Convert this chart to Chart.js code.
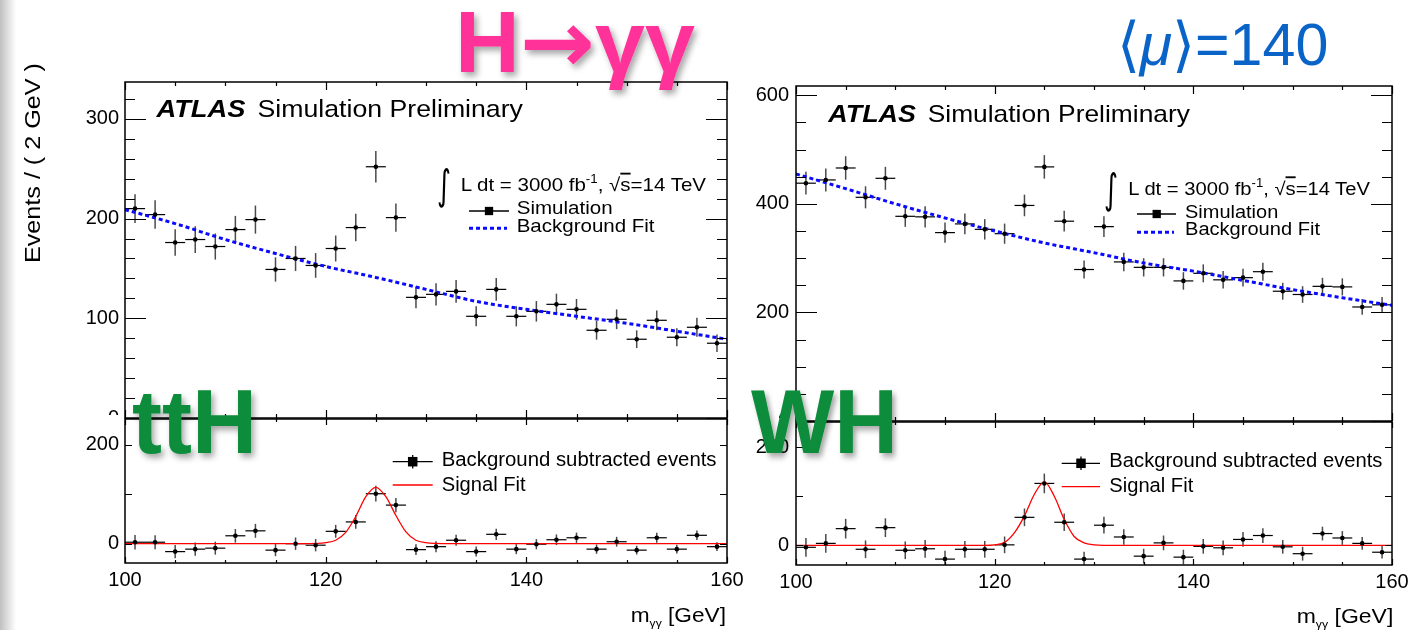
<!DOCTYPE html>
<html><head><meta charset="utf-8">
<script src="https://cdn.jsdelivr.net/npm/chart.js@4.4.1/dist/chart.umd.min.js"></script>
<style>
html,body{margin:0;padding:0;background:#fff;}
body{width:1411px;height:630px;position:relative;overflow:hidden;font-family:"Liberation Sans",Arial,sans-serif;}
canvas{position:absolute;}
#overlay{position:absolute;left:0;top:0;pointer-events:none;}
#strip{position:absolute;left:0;top:0;width:16px;height:630px;background:linear-gradient(to right,rgba(140,140,140,0.55),rgba(255,255,255,0));}
</style></head><body>
<div id="strip"></div>
<canvas id="lt" width="700" height="370" style="left:60px;top:70px"></canvas>
<canvas id="rt" width="666" height="370" style="left:745px;top:74px"></canvas>
<canvas id="lb" width="700" height="215" style="left:60px;top:415px"></canvas>
<canvas id="rb" width="666" height="212" style="left:745px;top:418px"></canvas>
<svg id="overlay" xmlns="http://www.w3.org/2000/svg" width="1411" height="630">
<defs>
<filter id="sh" x="-20%" y="-20%" width="150%" height="160%"><feDropShadow dx="3" dy="4" stdDeviation="3" flood-color="#000" flood-opacity="0.35"/></filter>
</defs>
</svg>
<script>
// ---------------- data ----------------
const binCenters = [101,103,105,107,109,111,113,115,117,119,121,123,125,127,129,131,133,135,137,139,141,143,145,147,149,151,153,155,157,159];
const binHalfWidth = 1;
const xTickValues = [100,120,140,160];

// ttH (left)
const ttH_sim    = [210,204,176,179,172,189,199,149,160,153,170,191,252,201,121,124,127,102,129,102,107,114,109,88,99,79,98,81,91,75];
const ttH_simErr = [14.5,14.3,13.3,13.4,13.1,13.7,14.1,12.2,12.6,12.4,13,13.8,15.9,14.2,11,11.1,11.3,10.1,11.4,10.1,10.3,10.7,10.4,9.4,9.9,8.9,9.9,9,9.5,8.7];
const ttH_sub    = [3,3,-16,-11,-9,16,26,-13,0,-3,25,44,101,78,-12,-6,7,-16,19,-11,-1,8,12,-11,4,-13,12,-11,17,-6];
const ttH_subErr = [14.5,14.3,13.3,13.4,13.1,13.7,14.1,12.2,12.6,12.4,13,13.8,15.9,14.2,11,11.1,11.3,10.1,11.4,10.1,10.3,10.7,10.4,9.4,9.9,8.9,9.9,9,9.5,8.7];
const bkgFitX    = [100,105,110,115,120,125,130,135,140,145,150,155,160];
const ttH_bkgFit = [209,195,179,165,152,141,129,117,109,102,95,87,79];
const sigFitX    = [100,117,118,119,120,121,122,123,124,125,126,127,128,129,130,131,132,133,160];
const ttH_sigFit = [0,0,0,0.5,2,7,23,55,95,114,95,57,24,7,2,0.5,0,0,0];
const ttH_yTicksTop = [0,100,200,300];

// WH (right)
const WH_sim    = [438,444,466,412,447,377,376,347,363,353,345,397,468,368,279,358,293,283,283,258,272,260,264,275,239,233,248,247,210,214];
const WH_simErr = [20.9,21.1,21.6,20.3,21.1,19.4,19.4,18.6,19.1,18.8,18.6,19.9,21.6,19.2,16.7,18.9,17.1,16.8,16.8,16.1,16.5,16.1,16.2,16.6,15.5,15.3,15.7,15.7,14.5,14.6];
const WH_sub    = [-4,4,34,-8,36,-10,-7,-28,-8,-8,1,57,126,47,-28,41,17,-22,5,-24,-2,-5,12,20,-3,-17,24,15,4,-14];
const WH_subErr = [19,19,20,18,19,18,18,17,17,17,17,18,20,18,15,17,16,15,15,15,15,15,15,15,14,14,14,14,13,13];
const WH_bkgFit = [455,428,400,374,350,328,310,291,276,259,242,227,213];
const WH_sigFit = [0,0,0,0,1,6,26,60,104,129,100,53,18,5,1,0,0,0,0];
const WH_yTicksTop = [0,200,400,600];

const yTicksBottom = [0,200];

// ---------------- plugins ----------------
const errorBarPlugin = {
  id: 'errorBars',
  beforeDatasetsDraw(chart) {
    const {ctx, chartArea: a, scales: {x, y}} = chart;
    ctx.save();
    ctx.beginPath(); ctx.rect(a.left, a.top, a.width, a.height); ctx.clip();
    chart.data.datasets.forEach(ds => {
      if (!ds.errors) return;
      ds.data.forEach((p, i) => {
        const px = x.getPixelForValue(p.x), py = y.getPixelForValue(p.y);
        const e = ds.errors[i];
        ctx.strokeStyle = '#4a4a4a'; ctx.lineWidth = 1.5;
        ctx.beginPath(); ctx.moveTo(px, y.getPixelForValue(p.y + e)); ctx.lineTo(px, y.getPixelForValue(p.y - e)); ctx.stroke();
        ctx.strokeStyle = '#000'; ctx.lineWidth = 1.2;
        ctx.beginPath(); ctx.moveTo(x.getPixelForValue(p.x - ds.xErr), py); ctx.lineTo(x.getPixelForValue(p.x + ds.xErr), py); ctx.stroke();
      });
    });
    ctx.restore();
  }
};
const framePlugin = {
  id: 'rootFrame',
  afterDatasetsDraw(chart, args, o) {
    const {ctx, chartArea: a, scales: {x, y}} = chart;
    ctx.save();
    ctx.strokeStyle = '#000'; ctx.lineWidth = 1.2;
    ctx.beginPath();
    for (let v = Math.ceil(x.min / o.xMinor) * o.xMinor; v <= x.max + 1e-9; v += o.xMinor) {
      const px = Math.round(x.getPixelForValue(v)) + 0.5;
      const len = (Math.abs(v % o.xMajor) < 1e-9) ? o.xMajorLen : o.xMinorLen;
      ctx.moveTo(px, a.bottom); ctx.lineTo(px, a.bottom - len);
      ctx.moveTo(px, a.top); ctx.lineTo(px, a.top + len);
    }
    for (let v = Math.ceil(y.min / o.yMinor) * o.yMinor; v <= y.max + 1e-9; v += o.yMinor) {
      const py = Math.round(y.getPixelForValue(v)) + 0.5;
      const len = (Math.abs(v % o.yMajor) < 1e-9) ? o.yMajorLen : o.yMinorLen;
      ctx.moveTo(a.left, py); ctx.lineTo(a.left + len, py);
      ctx.moveTo(a.right, py); ctx.lineTo(a.right - len, py);
    }
    ctx.stroke();
    ctx.lineWidth = 1.5;
    ctx.strokeRect(a.left, a.top, a.right - a.left, a.bottom - a.top);
    ctx.restore();
  }
};
const whiteLeftPlugin = {
  id: 'whiteLeft',
  beforeDraw(chart, args, o) {
    if (!o.on) return;
    const {ctx, chartArea: a} = chart;
    ctx.save(); ctx.fillStyle = '#fff'; ctx.fillRect(0, 0, a.left - 1, chart.height); ctx.restore();
  }
};

const tickFont = {family: 'Liberation Sans, Arial, sans-serif', size: 20};

function makeChart(id, c) {
  const pts = binCenters.map((x, i) => ({x, y: c.vals[i]}));
  const fit = c.fitX.map((x, i) => ({x, y: c.fitY[i]}));
  return new Chart(document.getElementById(id), {
    type: 'scatter',
    data: {datasets: [
      {data: pts, errors: c.errs, xErr: binHalfWidth, pointRadius: 2.3, pointBackgroundColor: '#000', pointBorderWidth: 0, showLine: false, order: 1},
      {data: fit, showLine: true, pointRadius: 0, borderColor: c.fitColor, borderWidth: c.fitWidth, borderDash: c.fitDash, cubicInterpolationMode: 'monotone', fill: false, order: 2}
    ]},
    options: {
      responsive: false, animation: false, devicePixelRatio: 1,
      layout: {padding: c.padding},
      plugins: {legend: {display: false}, tooltip: {enabled: false},
        rootFrame: c.frame, whiteLeft: {on: c.whiteLeft}},
      scales: {
        x: {type: 'linear', min: 100, max: 160,
          grid: {display: false, drawTicks: false}, border: {display: false},
          ticks: {display: c.showX, autoSkip: false, maxRotation: 0, padding: c.xPad, font: tickFont, color: '#000'},
          afterBuildTicks: s => { s.ticks = xTickValues.map(v => ({value: v})); },
          afterFit: s => { s.height = c.xHeight; s.paddingLeft = 0; s.paddingRight = 0; }},
        y: {type: 'linear', min: c.ymin, max: c.ymax,
          grid: {display: false, drawTicks: false}, border: {display: false},
          ticks: {autoSkip: false, padding: c.yPad, font: tickFont, color: '#000'},
          afterBuildTicks: s => { s.ticks = c.yTicks.map(v => ({value: v})); },
          afterFit: s => { s.width = c.yWidth; s.paddingTop = 0; s.paddingBottom = 0; }}
      }
    },
    plugins: [errorBarPlugin, framePlugin, whiteLeftPlugin]
  });
}

const blueFit = {fitColor: '#0a0aff', fitWidth: 3, fitDash: [4, 3]};
const redFit = {fitColor: '#ff0000', fitWidth: 1.3, fitDash: []};

makeChart('lt', Object.assign({vals: ttH_sim, errs: ttH_simErr, fitX: bkgFitX, fitY: ttH_bkgFit,
  ymin: 0, ymax: 337, yTicks: ttH_yTicksTop, padding: {left: 0, right: 33, top: 12, bottom: 22},
  yWidth: 65, xHeight: 0, showX: false, xPad: 0, yPad: 6, whiteLeft: false,
  frame: {xMinor: 5, xMajor: 20, xMinorLen: 4, xMajorLen: 8, yMinor: 20, yMajor: 100, yMinorLen: 10, yMajorLen: 21}}, blueFit));
makeChart('rt', Object.assign({vals: WH_sim, errs: WH_simErr, fitX: bkgFitX, fitY: WH_bkgFit,
  ymin: 0, ymax: 617, yTicks: WH_yTicksTop, padding: {left: 0, right: 19, top: 12, bottom: 23},
  yWidth: 51, xHeight: 0, showX: false, xPad: 0, yPad: 7, whiteLeft: false,
  frame: {xMinor: 5, xMajor: 20, xMinorLen: 4, xMajorLen: 8, yMinor: 50, yMajor: 200, yMinorLen: 10, yMajorLen: 21}}, blueFit));
makeChart('lb', Object.assign({vals: ttH_sub, errs: ttH_subErr, fitX: sigFitX, fitY: ttH_sigFit,
  ymin: -39, ymax: 252, yTicks: yTicksBottom, padding: {left: 0, right: 33, top: 4, bottom: 0},
  yWidth: 65, xHeight: 67, showX: true, xPad: 5, yPad: 6, whiteLeft: true,
  frame: {xMinor: 5, xMajor: 20, xMinorLen: 3, xMajorLen: 6, yMinor: 100, yMajor: 200, yMinorLen: 7, yMajorLen: 7}}, redFit));
makeChart('rb', Object.assign({vals: WH_sub, errs: WH_subErr, fitX: sigFitX, fitY: WH_sigFit,
  ymin: -40, ymax: 251, yTicks: yTicksBottom, padding: {left: 0, right: 19, top: 4, bottom: 0},
  yWidth: 51, xHeight: 65, showX: true, xPad: 5, yPad: 7, whiteLeft: true,
  frame: {xMinor: 5, xMajor: 20, xMinorLen: 3, xMajorLen: 6, yMinor: 100, yMajor: 200, yMinorLen: 7, yMajorLen: 7}}, redFit));

// ---------------- annotations (SVG text) ----------------
const NS = 'http://www.w3.org/2000/svg';
const svg = document.getElementById('overlay');
function el(tag, attrs) { const e = document.createElementNS(NS, tag); for (const k in attrs) e.setAttribute(k, attrs[k]); svg.appendChild(e); return e; }
function txt(s) {
  const t = el('text', {x: 0, y: 0, 'font-size': s.fs, 'font-family': s.ff || 'Liberation Sans, Arial, sans-serif', fill: s.fill || '#000'});
  if (s.bold) t.setAttribute('font-weight', 'bold');
  if (s.italic) t.setAttribute('font-style', 'italic');
  if (s.filter) t.setAttribute('filter', s.filter);
  t.innerHTML = s.html;
  const w0 = t.getComputedTextLength();
  const k = s.w ? s.w / w0 : 1;
  t.setAttribute('transform', 'translate(' + s.x + ',' + s.y + ')' + (s.rot ? ' rotate(' + s.rot + ')' : '') + ' scale(' + k + ',' + (s.ky || 1) + ')');
  return t;
}
function line(x1, y1, x2, y2, stroke, w, dash) {
  const a = {x1, y1, x2, y2, stroke, 'stroke-width': w};
  if (dash) a['stroke-dasharray'] = dash;
  return el('line', a);
}
function square(cx, cy, s) { return el('rect', {x: cx - s / 2, y: cy - s / 2, width: s, height: s, fill: '#000'}); }

const intHtml = 'L dt = 3000 fb<tspan dy="-7.5" font-size="12">-1</tspan><tspan dy="7.5">, √</tspan><tspan style="text-decoration:overline">s</tspan>=14 TeV';
const mHtml = 'm<tspan font-size="11" dy="5">γγ</tspan><tspan dy="-5"> [GeV]</tspan>';

// left panel
txt({x: 156.5, y: 116.7, fs: 24.5, bold: true, italic: true, w: 89, html: 'ATLAS'});
txt({x: 257.5, y: 116.7, fs: 24, w: 265.5, html: 'Simulation Preliminary'});
txt({x: 437, y: 199, fs: 34, w: 14, ky: 1.2, ff: 'DejaVu Sans, sans-serif', html: '∫'});
txt({x: 460.7, y: 190.7, fs: 18.5, w: 245.5, html: intHtml});
line(469, 211, 509, 211, '#000', 1.3); square(489, 211, 8.3);
txt({x: 516.7, y: 213.8, fs: 18.5, w: 96, html: 'Simulation'});
line(469, 228.3, 507, 228.3, '#0a0aff', 3, '4 3');
txt({x: 516.7, y: 231.5, fs: 18.5, w: 138, html: 'Background Fit'});
line(392.7, 461.7, 432.7, 461.7, '#000', 1.3); line(412.7, 455, 412.7, 468.5, '#000', 1.3); square(412.7, 461.7, 9.5);
txt({x: 441.7, y: 465.7, fs: 19.5, w: 275, html: 'Background subtracted events'});
line(392.7, 485, 432.7, 485, '#ff0000', 1.3);
txt({x: 441.7, y: 491, fs: 19.5, w: 84, html: 'Signal Fit'});
txt({x: 630.7, y: 621.7, fs: 20.5, w: 95.3, html: mHtml});
txt({x: 40, y: 263, fs: 22, w: 200, rot: -90, html: 'Events / ( 2 GeV )'});

// right panel
txt({x: 828.3, y: 121.7, fs: 24.5, bold: true, italic: true, w: 87.7, html: 'ATLAS'});
txt({x: 927.7, y: 121.7, fs: 24, w: 262.3, html: 'Simulation Preliminary'});
txt({x: 1104, y: 203, fs: 34, w: 14, ky: 1.2, ff: 'DejaVu Sans, sans-serif', html: '∫'});
txt({x: 1128.3, y: 194.5, fs: 18.5, w: 241.7, html: intHtml});
line(1137, 214, 1176, 214, '#000', 1.3); square(1156.7, 214, 8.3);
txt({x: 1185, y: 217.5, fs: 18.5, w: 93.3, html: 'Simulation'});
line(1137, 232.3, 1174, 232.3, '#0a0aff', 3, '4 3');
txt({x: 1185, y: 235.2, fs: 18.5, w: 135, html: 'Background Fit'});
line(1061.7, 463.3, 1100, 463.3, '#000', 1.3); line(1081, 456.5, 1081, 470, '#000', 1.3); square(1081, 463.3, 9.5);
txt({x: 1109.3, y: 467.3, fs: 19.5, w: 273.3, html: 'Background subtracted events'});
line(1061.7, 486.7, 1100, 486.7, '#ff0000', 1.3);
txt({x: 1109.3, y: 491.7, fs: 19.5, w: 84, html: 'Signal Fit'});
txt({x: 1296.7, y: 623, fs: 20.5, w: 96.7, html: mHtml});

// big slide labels
txt({x: 455, y: 72, fs: 87, bold: true, fill: '#ff3399', w: 240, filter: 'url(#sh)', html: 'H<tspan font-family="DejaVu Sans, sans-serif">→</tspan>γγ'});
txt({x: 1117, y: 65, fs: 60, fill: '#0a64c8', w: 211, html: '⟨<tspan font-style="italic">μ</tspan>⟩=140'});
txt({x: 132, y: 453.3, fs: 91, bold: true, fill: '#0b8c3b', w: 125, filter: 'url(#sh)', html: 'ttH'});
txt({x: 751, y: 453.3, fs: 91, bold: true, fill: '#0b8c3b', w: 147, filter: 'url(#sh)', html: 'WH'});
</script>
</body></html>
